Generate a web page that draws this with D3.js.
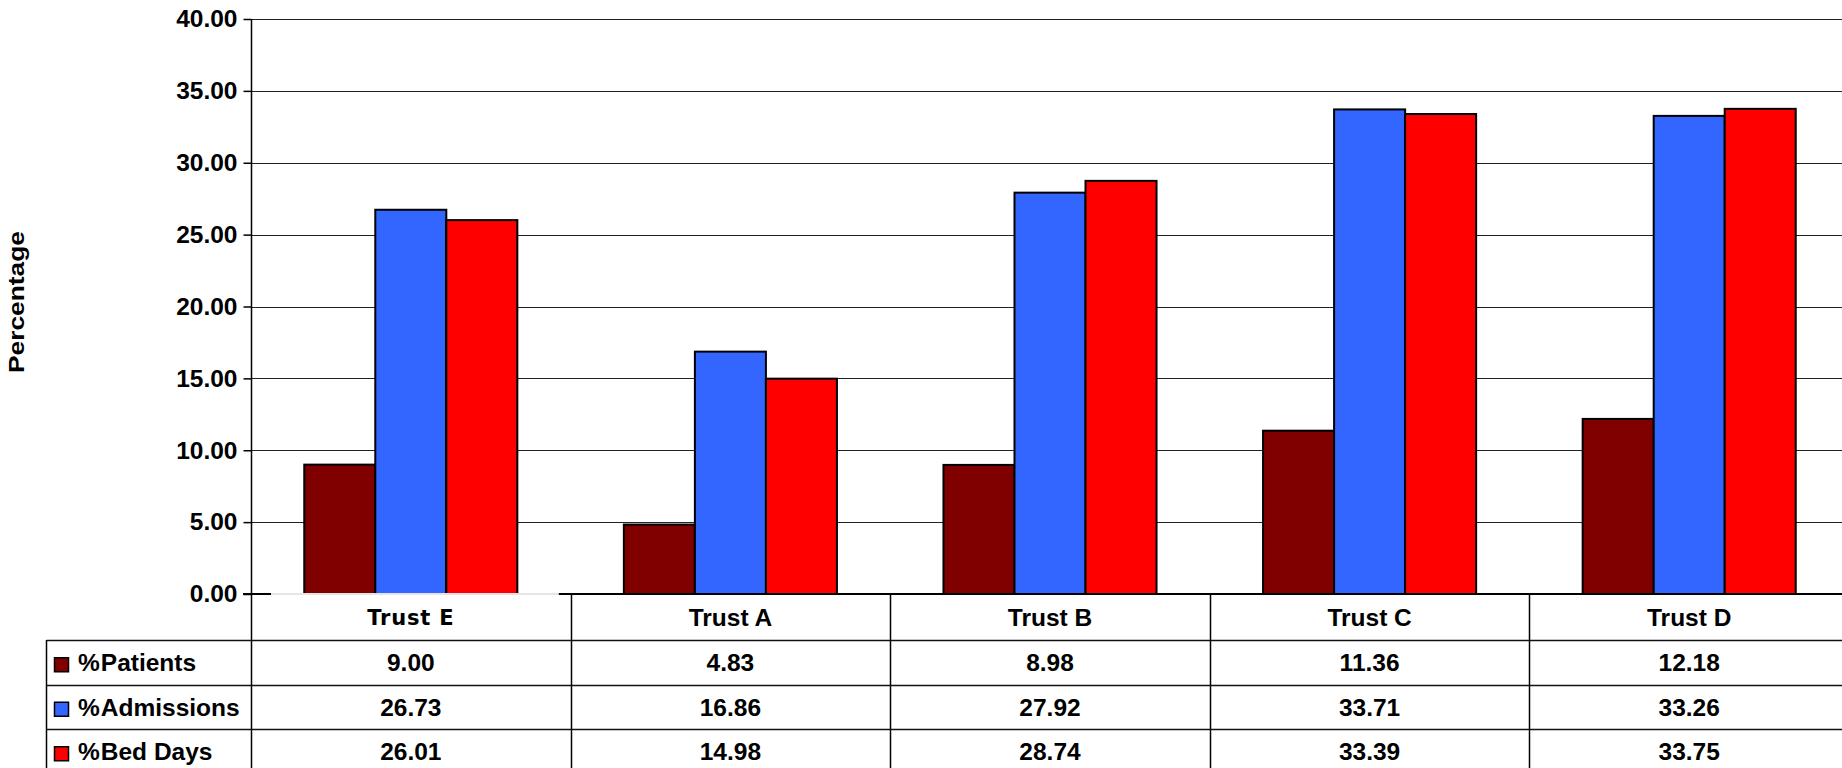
<!DOCTYPE html>
<html>
<head>
<meta charset="utf-8">
<script src="https://cdn.jsdelivr.net/npm/d3@7"></script>
<style>
  html, body { margin: 0; padding: 0; background: #fff; }
  svg { display: block; }
  text { font-family: "Liberation Sans", Arial, sans-serif; font-weight: bold; fill: #000; }
</style>
</head>
<body>
<svg id="chart" width="1842" height="768"></svg>
<script>
// Share of patients, admissions and bed days by trust (%)
const categories = ["Trust E", "Trust A", "Trust B", "Trust C", "Trust D"];
const seriesNames = ["% Patients", "% Admissions", "% Bed Days"];
const patients   = [9.00, 4.83, 8.98, 11.36, 12.18];
const admissions = [26.73, 16.86, 27.92, 33.71, 33.26];
const bedDays    = [26.01, 14.98, 28.74, 33.39, 33.75];
const seriesColors = ["#800000", "#3366FF", "#FF0000"];
const yTicks = [0, 5, 10, 15, 20, 25, 30, 35, 40];

const seriesValues = [patients, admissions, bedDays];

const W = 1842, H = 768;
const plotLeft = 251, plotTop = 19, plotBottom = 594;
const colW = 319.6;
const plotRight = plotLeft + categories.length * colW;
const tableLeft = 46.5;
const catRowBottom = 640;
const rowH = 44.5;

const svg = d3.select("#chart");

const x = d3.scaleBand().domain(categories).range([plotLeft, plotRight]).padding(0);
const xs = d3.scaleBand().domain(d3.range(seriesNames.length))
  .range([x.bandwidth() / 6, x.bandwidth() * 5 / 6]).padding(0);
const y = d3.scaleLinear().domain([0, 40]).range([plotBottom, plotTop]);

// Horizontal gridlines
svg.append("g")
  .selectAll("line")
  .data(yTicks.filter(d => d > 0))
  .join("line")
  .attr("x1", plotLeft).attr("x2", W)
  .attr("y1", d => Math.round(y(d)) + 0.5).attr("y2", d => Math.round(y(d)) + 0.5)
  .attr("stroke", "#222").attr("stroke-width", 1.2);

// Value axis with its ticks and labels
const yAxis = d3.axisLeft(y).tickValues(yTicks).tickFormat(d3.format(".2f")).tickSize(8).tickPadding(6);
const gy = svg.append("g").attr("transform", `translate(${plotLeft + 0.5},0)`).call(yAxis);
gy.select(".domain").remove();
gy.selectAll(".tick line").attr("stroke", "#000").attr("stroke-width", 1.5);
gy.selectAll(".tick text")
  .style("font-family", '"Liberation Sans", Arial, sans-serif')
  .style("font-weight", "bold")
  .style("font-size", "24.5px")
  .attr("fill", "#000");

// Axis title
svg.append("text")
  .attr("transform", `translate(24,302) rotate(-90)`)
  .attr("text-anchor", "middle")
  .style("font-size", "22px")
  .attr("textLength", 142)
  .attr("lengthAdjust", "spacingAndGlyphs")
  .text("Percentage");

// Bars
const groups = svg.append("g")
  .selectAll("g")
  .data(categories)
  .join("g")
  .attr("transform", d => `translate(${x(d)},0)`);

groups.selectAll("rect")
  .data((c, ci) => seriesValues.map((vals, si) => ({ si, v: vals[ci] })))
  .join("rect")
  .attr("x", d => xs(d.si))
  .attr("width", xs.bandwidth())
  .attr("y", d => y(d.v))
  .attr("height", d => y(0) - y(d.v))
  .attr("fill", d => seriesColors[d.si])
  .attr("stroke", "#000")
  .attr("stroke-width", 2);

// Category axis baseline
svg.append("line")
  .attr("x1", plotLeft - 8).attr("x2", W)
  .attr("y1", plotBottom).attr("y2", plotBottom)
  .attr("stroke", "#000").attr("stroke-width", 2);

// Light label box under the first category name
const boxX0 = x(categories[0]) + 20, boxX1 = x(categories[0]) + x.bandwidth() - 12;
svg.append("rect")
  .attr("x", boxX0).attr("y", plotBottom - 1)
  .attr("width", boxX1 - boxX0).attr("height", catRowBottom - plotBottom + 1)
  .attr("fill", "#fff");
svg.append("line")
  .attr("x1", boxX0).attr("x2", boxX1)
  .attr("y1", plotBottom).attr("y2", plotBottom)
  .attr("stroke", "#ddd").attr("stroke-width", 1.5);

// Data table grid
const tableG = svg.append("g");
const rowTops = seriesNames.map((_, i) => catRowBottom + i * rowH);

// vertical column separators (value axis line continues down)
tableG.append("line")
  .attr("x1", plotLeft + 0.5).attr("x2", plotLeft + 0.5)
  .attr("y1", plotTop).attr("y2", H)
  .attr("stroke", "#000").attr("stroke-width", 1.5);
tableG.selectAll("line.col")
  .data(categories.slice(1))
  .join("line")
  .attr("class", "col")
  .attr("x1", d => Math.round(x(d)) + 0.5).attr("x2", d => Math.round(x(d)) + 0.5)
  .attr("y1", plotBottom).attr("y2", H)
  .attr("stroke", "#000").attr("stroke-width", 1.5);
// outer left border of the legend column
tableG.append("line")
  .attr("x1", tableLeft).attr("x2", tableLeft)
  .attr("y1", catRowBottom).attr("y2", H)
  .attr("stroke", "#000").attr("stroke-width", 1.5);
// row separators
tableG.selectAll("line.row")
  .data(rowTops)
  .join("line")
  .attr("class", "row")
  .attr("x1", tableLeft).attr("x2", W)
  .attr("y1", d => Math.round(d) + 0.5).attr("y2", d => Math.round(d) + 0.5)
  .attr("stroke", "#111").attr("stroke-width", 1.5);

// Category names
svg.append("g")
  .selectAll("text")
  .data(categories)
  .join("text")
  .attr("x", d => x(d) + x.bandwidth() / 2)
  .attr("y", (plotBottom + catRowBottom) / 2)
  .attr("dy", "0.36em")
  .attr("text-anchor", "middle")
  .style("font-size", (d, i) => i === 0 ? "21px" : "24.5px")
  .style("font-family", (d, i) => i === 0 ? '"DejaVu Sans", Verdana, sans-serif' : '"Liberation Sans", Arial, sans-serif')
  .style("letter-spacing", (d, i) => i === 0 ? "0.8px" : null)
  .text(d => d);

// Legend keys and series names
const legendRows = svg.append("g")
  .selectAll("g")
  .data(seriesNames)
  .join("g")
  .attr("transform", (d, i) => `translate(0,${rowTops[i] + rowH / 2})`);

legendRows.append("rect")
  .attr("x", 54.5).attr("y", -4.5)
  .attr("width", 14).attr("height", 14)
  .attr("fill", (d, i) => seriesColors[i])
  .attr("stroke", "#000").attr("stroke-width", 1.5);

// the percent sign sits tight against the series name
const legendText = legendRows.append("text")
  .attr("x", 78).attr("dy", "0.36em")
  .style("font-size", "24.5px");
legendText.append("tspan").text(d => d.split(" ")[0]);
legendText.append("tspan").attr("dx", 1).text(d => d.split(" ").slice(1).join(" "));

// Table values
const valueRows = svg.append("g")
  .selectAll("g")
  .data(seriesValues)
  .join("g")
  .attr("transform", (d, i) => `translate(0,${rowTops[i] + rowH / 2})`);

valueRows.selectAll("text")
  .data(vals => vals.map((v, ci) => ({ v, c: categories[ci] })))
  .join("text")
  .attr("x", d => x(d.c) + x.bandwidth() / 2)
  .attr("dy", "0.36em")
  .attr("text-anchor", "middle")
  .style("font-size", "24.5px")
  .text(d => d3.format(".2f")(d.v));
</script>
</body>
</html>
